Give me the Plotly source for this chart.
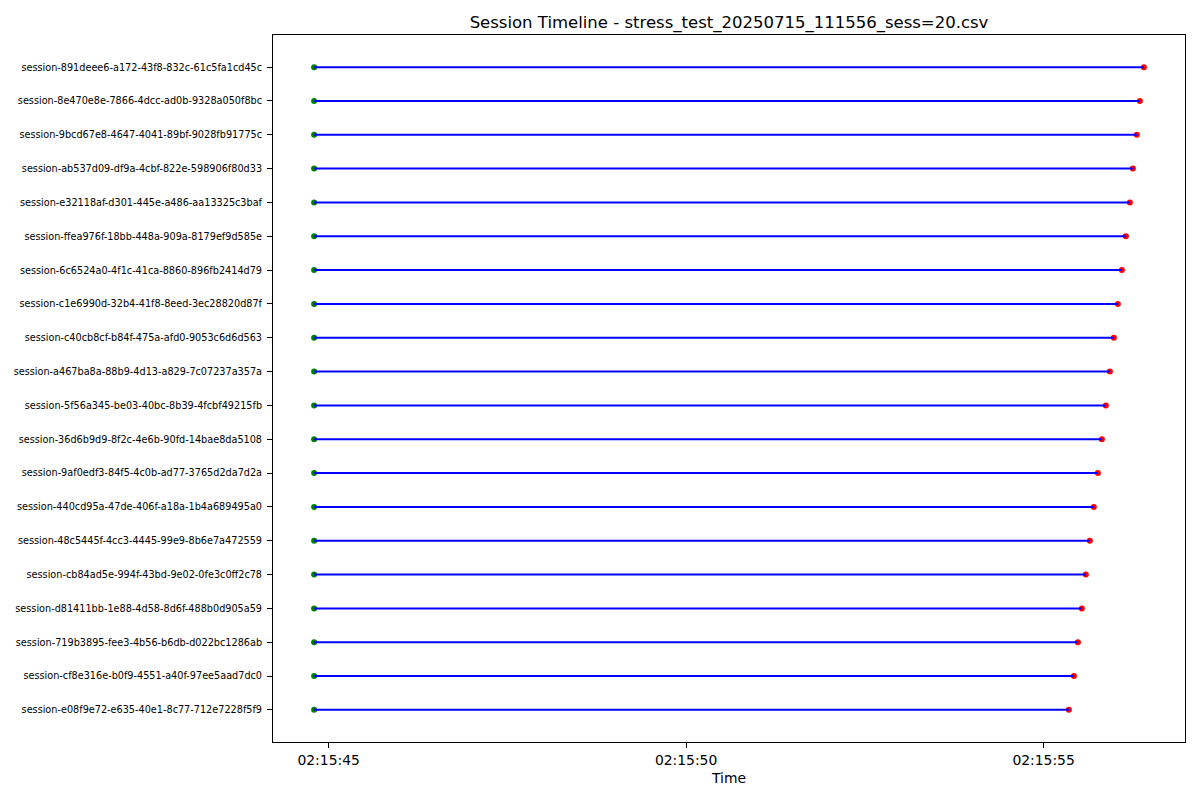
import plotly.graph_objects as go

# Sessions listed bottom-to-top (first item plotted at the bottom)
sessions = [
    "session-e08f9e72-e635-40e1-8c77-712e7228f5f9",
    "session-cf8e316e-b0f9-4551-a40f-97ee5aad7dc0",
    "session-719b3895-fee3-4b56-b6db-d022bc1286ab",
    "session-d81411bb-1e88-4d58-8d6f-488b0d905a59",
    "session-cb84ad5e-994f-43bd-9e02-0fe3c0ff2c78",
    "session-48c5445f-4cc3-4445-99e9-8b6e7a472559",
    "session-440cd95a-47de-406f-a18a-1b4a689495a0",
    "session-9af0edf3-84f5-4c0b-ad77-3765d2da7d2a",
    "session-36d6b9d9-8f2c-4e6b-90fd-14bae8da5108",
    "session-5f56a345-be03-40bc-8b39-4fcbf49215fb",
    "session-a467ba8a-88b9-4d13-a829-7c07237a357a",
    "session-c40cb8cf-b84f-475a-afd0-9053c6d6d563",
    "session-c1e6990d-32b4-41f8-8eed-3ec28820d87f",
    "session-6c6524a0-4f1c-41ca-8860-896fb2414d79",
    "session-ffea976f-18bb-448a-909a-8179ef9d585e",
    "session-e32118af-d301-445e-a486-aa13325c3baf",
    "session-ab537d09-df9a-4cbf-822e-598906f80d33",
    "session-9bcd67e8-4647-4041-89bf-9028fb91775c",
    "session-8e470e8e-7866-4dcc-ad0b-9328a050f8bc",
    "session-891deee6-a172-43f8-832c-61c5fa1cd45c",
]

# Seconds past 02:15:00 on 2025-07-15
start_sec = [44.797] * 20
end_sec = [55.354, 55.424, 55.480, 55.535, 55.591, 55.647, 55.703, 55.759,
           55.815, 55.871, 55.927, 55.983, 56.039, 56.095, 56.151, 56.207,
           56.249, 56.305, 56.347, 56.403]

tick_secs = [45, 50, 55]
x_range_secs = [44.222, 56.978]


def ts(sec):
    whole = int(sec)
    micro = int(round((sec - whole) * 1e6))
    if micro >= 1000000:
        whole += 1
        micro -= 1000000
    return f"2025-07-15 02:15:{whole:02d}.{micro:06d}"


starts = [ts(s) for s in start_sec]
ends = [ts(e) for e in end_sec]

line_x, line_y = [], []
for s, e, name in zip(starts, ends, sessions):
    line_x += [s, e, None]
    line_y += [name, name, None]

fig = go.Figure()
fig.add_trace(go.Scatter(x=starts, y=sessions, mode="markers",
                         marker=dict(color="#008000", size=6, line=dict(width=0)),
                         showlegend=False, hoverinfo="skip"))
fig.add_trace(go.Scatter(x=ends, y=sessions, mode="markers",
                         marker=dict(color="#ff0000", size=6, line=dict(width=0)),
                         showlegend=False, hoverinfo="skip"))
fig.add_trace(go.Scatter(x=line_x, y=line_y, mode="lines",
                         line=dict(color="#0000ff", width=2),
                         showlegend=False, hoverinfo="skip"))

fig.update_layout(
    width=1200, height=800,
    margin=dict(l=273, r=15, t=35, b=58),
    paper_bgcolor="white", plot_bgcolor="white",
    font=dict(family="DejaVu Sans", color="black"),
    title=dict(text="Session Timeline - stress_test_20250715_111556_sess=20.csv",
               x=(273 + 1185) / 2 / 1200, xanchor="center",
               y=1 - 22 / 800, yanchor="middle", yref="container",
               font=dict(size=16.5, family="DejaVu Sans", color="black")),
    xaxis=dict(
        type="date",
        range=[ts(x_range_secs[0]), ts(x_range_secs[1])],
        tickmode="array",
        tickvals=[ts(t) for t in tick_secs],
        ticktext=[f"02:15:{t:02d}" for t in tick_secs],
        ticks="outside", ticklen=5, tickwidth=1, tickcolor="black",
        tickfont=dict(size=13.9, family="DejaVu Sans", color="black"),
        showgrid=False, zeroline=False,
        showline=True, linecolor="black", linewidth=1, mirror=True,
        title=dict(text="Time", font=dict(size=13.9, family="DejaVu Sans", color="black"),
                   standoff=6),
    ),
    yaxis=dict(
        type="category",
        categoryorder="array", categoryarray=sessions,
        range=[-0.95, 19.95],
        ticks="outside", ticklen=5, tickwidth=1, tickcolor="black",
        tickfont=dict(size=9.7, family="DejaVu Sans", color="black"),
        ticklabelstandoff=3,
        showgrid=False, zeroline=False,
        showline=True, linecolor="black", linewidth=1, mirror=True,
    ),
)

fig.write_html("out.html")
